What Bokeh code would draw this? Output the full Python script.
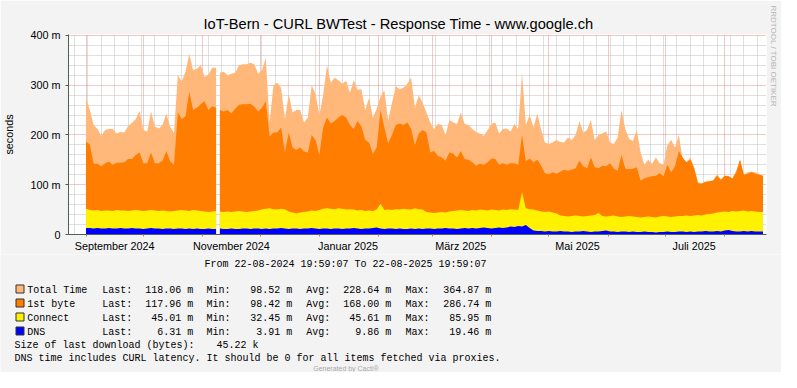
import pandas as pd
from bokeh.plotting import figure
from bokeh.layouts import column, row
from bokeh.models import Range1d, FixedTicker, ColumnDataSource, Title
from bokeh.core.properties import value
from bokeh.embed import file_html
from bokeh.resources import INLINE

# ---------------- data ----------------
TITLE = "IoT-Bern - CURL BWTest - Response Time - www.google.ch"
RANGE_START = "2024-08-22 19:59:07"
RANGE_END = "2025-08-22 19:59:07"
SAMPLE_START = "2024-09-01"
SAMPLE_STEP_DAYS = 2
GAP_AFTER = "2024-11-08"   # no data between this sample and the next one

TOTAL = [273, 250, 220, 212, 198, 210, 212, 212, 203, 206,
         205, 218, 224, 232, 248, 210, 207, 247, 217, 213,
         220, 243, 216, 204, 320, 308, 327, 363, 330, 333,
         340, 317, 321, 335, 335, 325, 327, 320, 323, 325,
         340, 342, 342, 345, 342, 323, 330, 355, 225, 300,
         305, 295, 232, 282, 245, 250, 250, 225, 235, 300,
         283, 240, 280, 340, 305, 315, 310, 303, 309, 285,
         310, 291, 292, 250, 275, 235, 253, 277, 290, 229,
         265, 298, 292, 295, 303, 315, 255, 280, 265, 245,
         225, 212, 222, 220, 200, 230, 225, 222, 245, 222,
         220, 212, 206, 203, 198, 210, 222, 225, 203, 212,
         213, 207, 222, 212, 325, 220, 240, 215, 243, 210,
         185, 182, 185, 190, 186, 185, 195, 190, 200, 228,
         205, 210, 230, 190, 200, 203, 207, 185, 182, 195,
         250, 212, 192, 188, 210, 165, 140, 150, 142, 155,
         143, 140, 180, 190, 175, 200, 150, 145, 155, 135,
         105, 103, 106, 107, 110, 121, 110, 118, 118, 113,
         128, 150, 120, 125, 126, 125, 122, 118]

FIRST_BYTE = [187, 181, 142, 142, 137, 143, 146, 140, 144, 144,
              145, 152, 152, 160, 165, 143, 143, 165, 143, 143,
              148, 168, 147, 140, 245, 232, 237, 287, 250, 255,
              262, 268, 250, 258, 255, 250, 247, 250, 243, 253,
              261, 262, 262, 263, 257, 247, 255, 268, 197, 205,
              205, 215, 165, 205, 175, 170, 175, 167, 165, 200,
              190, 160, 215, 235, 223, 228, 235, 240, 235, 220,
              212, 228, 217, 190, 185, 162, 175, 250, 215, 183,
              200, 220, 223, 220, 225, 212, 180, 203, 210, 205,
              165, 168, 158, 155, 148, 165, 163, 155, 168, 152,
              150, 145, 138, 142, 140, 145, 153, 152, 140, 143,
              140, 143, 143, 140, 200, 147, 153, 145, 150, 138,
              123, 121, 125, 122, 126, 130, 128, 130, 133, 148,
              137, 133, 155, 135, 133, 138, 137, 143, 132, 128,
              160, 132, 131, 132, 135, 108, 113, 115, 117, 118,
              123, 117, 140, 125, 137, 168, 155, 145, 150, 133,
              103, 102, 106, 107, 108, 118, 110, 118, 117, 112,
              125, 150, 120, 122, 125, 122, 120, 118]

CONNECT = [52, 49, 48, 49, 47, 48, 48, 47, 49, 48,
           48, 47, 48, 49, 48, 47, 48, 49, 48, 47,
           48, 47, 46, 47, 48, 49, 48, 47, 49, 48, 47,
           46, 45, 46, 47, 46, 45, 46, 45, 46, 47, 46, 45, 46, 47, 48,
           51, 52, 53, 51, 50, 52, 51,
           46, 44, 42, 44, 45, 46,
           48, 47, 49,
           52, 53, 52, 51, 53, 52, 50, 51, 50, 48, 49, 47, 48, 47,
           50, 62, 49,
           50, 49, 51, 50, 52, 51, 50, 53, 51, 50,
           45, 44, 43, 44, 45, 44, 46,
           47, 48, 49, 48, 47, 49, 48, 50, 49, 48, 50, 49, 48, 50, 49, 51, 50, 49,
           85,
           53, 51, 50, 48,
           46, 45, 46, 44, 42,
           38, 37, 36, 37, 38, 37, 36, 37, 38, 39,
           43, 37, 36, 37, 38, 36, 35, 36, 37, 36,
           35, 34, 35, 36, 35, 34, 36, 37, 36, 35, 36, 37,
           37, 38, 37, 38, 39, 38, 40, 41, 42, 44,
           45, 46, 45, 47, 46, 47, 48, 46, 47, 46, 45, 45]

DNS = [13, 13, 12, 13, 12, 12, 13, 12, 12, 13,
       12, 12, 13, 12, 12, 11, 12, 13, 12, 12,
       11, 12, 12, 11, 12, 12, 11, 12, 11, 12, 11,
       11, 12, 11, 11, 12, 11, 11, 12, 11, 11,
       12, 12, 11, 12, 12, 11, 12, 11, 12, 12,
       13, 12, 11, 12, 12, 11, 12, 12, 13, 12,
       11, 12, 12, 11, 12,
       12, 11, 12, 12, 13, 12, 11, 12, 12, 13,
       14, 12, 11, 12, 12, 11, 12, 11, 11, 12,
       11, 12, 11, 12, 12, 11, 12, 12, 13, 12,
       12, 11, 12, 13, 12, 13, 12, 13, 14, 13,
       12, 13, 14, 13, 14,
       16, 15, 17, 16, 19, 13,
       8, 7, 7, 6, 7, 6, 6, 7, 6, 6,
       5, 6, 6, 7, 6, 5, 6, 6, 7, 8,
       6, 6, 5, 6, 6, 5, 6, 5, 5, 6,
       5, 5, 4, 5, 5, 6, 5, 5, 6, 6,
       5, 6, 5, 6, 6, 7, 6, 6, 7, 6,
       8, 9, 7, 6, 6, 7, 6, 7, 6, 6, 6]

SERIES_NAMES = ["Total Time", "1st byte", "Connect", "DNS"]
SERIES_COLORS = ["#FFB87A", "#FF7D00", "#FFF200", "#0000FF"]
STAT_LAST = ["118.06 m", "117.96 m", "45.01 m", "6.31 m"]
STAT_MIN = ["98.52 m", "98.42 m", "32.45 m", "3.91 m"]
STAT_AVG = ["228.64 m", "168.00 m", "45.61 m", "9.86 m"]
STAT_MAX = ["364.87 m", "286.74 m", "85.95 m", "19.46 m"]
STAT_HEADS = ["Last:", "Min:", "Avg:", "Max:"]

Y_TICKS = [0, 100, 200, 300, 400]
Y_TICK_LABELS = ["0", "100 m", "200 m", "300 m", "400 m"]
Y_MINOR_STEP = 20
X_LABEL_DATES = ["2024-09-16", "2024-11-16", "2025-01-16", "2025-03-16", "2025-05-16", "2025-07-16"]
X_TICK_LABELS = ["September 2024", "November 2024", "Januar 2025", "März 2025", "Mai 2025", "Juli 2025"]
MONTH_STARTS = ["2024-09-01", "2024-10-01", "2024-11-01", "2024-12-01", "2025-01-01", "2025-02-01",
                "2025-03-01", "2025-04-01", "2025-05-01", "2025-06-01", "2025-07-01", "2025-08-01"]
FIRST_MONDAY = "2024-08-26"

FROM_TEXT = "From 22-08-2024 19:59:07 To 22-08-2025 19:59:07"
SIZE_TEXT = "Size of last download (bytes):"
SIZE_VALUE = "45.22 k"
NOTE_TEXT = "DNS time includes CURL latency. It should be 0 for all items fetched via proxies."
CREDIT_TEXT = "Generated by Cacti®"
SIDE_TEXT = "RRDTOOL / TOBI OETIKER"

# ---------------- helpers ----------------
def ms(s):
    return int(pd.Timestamp(s).value // 10**6)

n = len(TOTAL)
assert len(FIRST_BYTE) == n and len(CONNECT) == n and len(DNS) == n, (len(FIRST_BYTE), len(CONNECT), len(DNS))
dates = [ms(pd.Timestamp(SAMPLE_START) + pd.Timedelta(days=SAMPLE_STEP_DAYS * i)) for i in range(n)]
gap_i = dates.index(ms(GAP_AFTER))
segments = [(0, gap_i + 1), (gap_i + 1, n)]

x0, x1 = ms(RANGE_START), ms(RANGE_END)

# layout (canvas pixels)
W, H = 781, 372
TOP_H = 254
FL, FR, FT, FB = 67, 767, 34, 235

BACK = "#F3F3F3"
AXIS = "#4B6157"
GRID = "#BEBEBE"
MGRID = "#E39090"
SANS = "Liberation Sans"
MONO = "Liberation Mono"

# ---------------- main chart ----------------
p = figure(width=W, height=TOP_H, output_backend="svg", toolbar_location=None,
           x_range=Range1d(x0, x1), y_range=Range1d(0, 402),
           min_border_left=FL, min_border_right=W - FR, min_border_top=FT,
           min_border_bottom=TOP_H - FB,
           background_fill_color="white", border_fill_color=BACK, outline_line_color=None)

p.title.text = TITLE
p.title.align = "left"
p.title.offset = 135
p.title.text_font = SANS
p.title.text_font_size = "11pt"
p.title.text_font_style = "normal"
p.title.text_color = "#000000"
p.title.standoff = 6

# vertical rrdtool credit on the right edge
p.add_layout(Title(text=SIDE_TEXT, align="left", offset=-29, vertical_align="bottom", standoff=4,
                   text_font=SANS, text_font_size="8px", text_font_style="normal",
                   text_color="#B4B4B4"), "right")

series = [TOTAL, FIRST_BYTE, CONNECT, DNS]
for vals, col in zip(series, SERIES_COLORS):
    for a, b in segments:
        p.varea(x=dates[a:b], y1=0, y2=vals[a:b], fill_color=col, fill_alpha=1.0)

month_ms = [ms(d) for d in MONTH_STARTS]
monday_ms = []
t = pd.Timestamp(FIRST_MONDAY)
while ms(t) < x1:
    monday_ms.append(ms(t))
    t += pd.Timedelta(days=7)

p.xgrid.ticker = FixedTicker(ticks=month_ms, minor_ticks=monday_ms)
p.ygrid.ticker = FixedTicker(ticks=[v for v in Y_TICKS if v > 0],
                             minor_ticks=[v for v in range(Y_MINOR_STEP, 400, Y_MINOR_STEP) if v % 100])
for g in (p.xgrid[0], p.ygrid[0]):
    g.grid_line_color = MGRID
    g.grid_line_dash = "1 1"
    g.grid_line_width = 1
    g.minor_grid_line_color = GRID
    g.minor_grid_line_dash = "1 1"

xa = p.xaxis[0]
xa.ticker = FixedTicker(ticks=[ms(d) for d in X_LABEL_DATES], minor_ticks=month_ms)
xa.major_label_overrides = {ms(d): lab for d, lab in zip(X_LABEL_DATES, X_TICK_LABELS)}
xa.major_tick_line_color = None
xa.major_tick_out = 0
xa.major_tick_in = 0
xa.minor_tick_line_color = "#D07070"
xa.minor_tick_out = 2
xa.minor_tick_in = 0
xa.major_label_standoff = 3
xa.major_label_text_font = SANS
xa.major_label_text_font_size = "10.8px"
xa.major_label_text_color = "#000000"
xa.axis_line_color = AXIS

ya = p.yaxis[0]
ya.ticker = FixedTicker(ticks=Y_TICKS)
ya.major_label_overrides = {v: lab for v, lab in zip(Y_TICKS, Y_TICK_LABELS)}
ya.major_tick_line_color = AXIS
ya.major_tick_out = 3
ya.major_tick_in = 0
ya.minor_tick_line_color = None
ya.major_label_standoff = 5
ya.major_label_text_font = SANS
ya.major_label_text_font_size = "10.8px"
ya.major_label_text_color = "#000000"
ya.axis_line_color = AXIS
ya.axis_label = "seconds"
ya.axis_label_text_font = SANS
ya.axis_label_text_font_size = "10.8px"
ya.axis_label_text_font_style = "normal"
ya.axis_label_text_color = "#000000"
ya.axis_label_standoff = 12

# ---------------- legend / comments panel ----------------
q = figure(width=W, height=H - TOP_H, output_backend="svg", toolbar_location=None, title=None,
           x_range=Range1d(0, W), y_range=Range1d(H, TOP_H),
           x_axis_location=None, y_axis_location=None,
           min_border_left=0, min_border_right=0, min_border_top=0, min_border_bottom=0,
           background_fill_color=BACK, border_fill_color=BACK, outline_line_color=None)
q.xgrid.visible = False
q.ygrid.visible = False

ROW_BASE0 = 289.5
ROW_PITCH = 14
rows_y = [ROW_BASE0 + ROW_PITCH * i for i in range(len(SERIES_NAMES))]

q.quad(left=[15.5] * 4, right=[23.5] * 4, top=[y - 5 for y in rows_y], bottom=[y + 3 for y in rows_y],
       fill_color=SERIES_COLORS, line_color="#333333", line_width=1)

head_x = [101.7, 206, 305.7, 405]
val_right = [192.8, 291.7, 390.8, 490.8]
stats = [STAT_LAST, STAT_MIN, STAT_AVG, STAT_MAX]

lx, ly, lt, rx, ry, rt = [], [], [], [], [], []
for i, name in enumerate(SERIES_NAMES):
    lx.append(26.7); ly.append(rows_y[i]); lt.append(name)
    for j in range(4):
        lx.append(head_x[j]); ly.append(rows_y[i]); lt.append(STAT_HEADS[j])
        rx.append(val_right[j]); ry.append(rows_y[i]); rt.append(stats[j][i])
lx += [204, 14, 216, 14]
ly += [263.5, 344.5, 344.5, 358]
lt += [FROM_TEXT, SIZE_TEXT, SIZE_VALUE, NOTE_TEXT]
left_src = ColumnDataSource(dict(x=lx, y=ly, t=lt))
right_src = ColumnDataSource(dict(x=rx, y=ry, t=rt))

q.text(x="x", y="y", text="t", source=left_src, text_align="left", text_baseline="alphabetic",
       text_font=value(MONO), text_font_size=value("10px"), text_color="#000000")
q.text(x="x", y="y", text="t", source=right_src, text_align="right", text_baseline="alphabetic",
       text_font=value(MONO), text_font_size=value("10px"), text_color="#000000")
q.text(x=[312.7], y=[367.5], text=[CREDIT_TEXT], text_align="left", text_baseline="alphabetic",
       text_font=value(SANS), text_font_size=value("7px"), text_color="#A8A8A8")

# the row wrapper keeps the legend panel from being frame-aligned with the chart
layout = column(row(p, spacing=0), q, spacing=0)
open("out.html", "w").write(file_html(layout, INLINE))
